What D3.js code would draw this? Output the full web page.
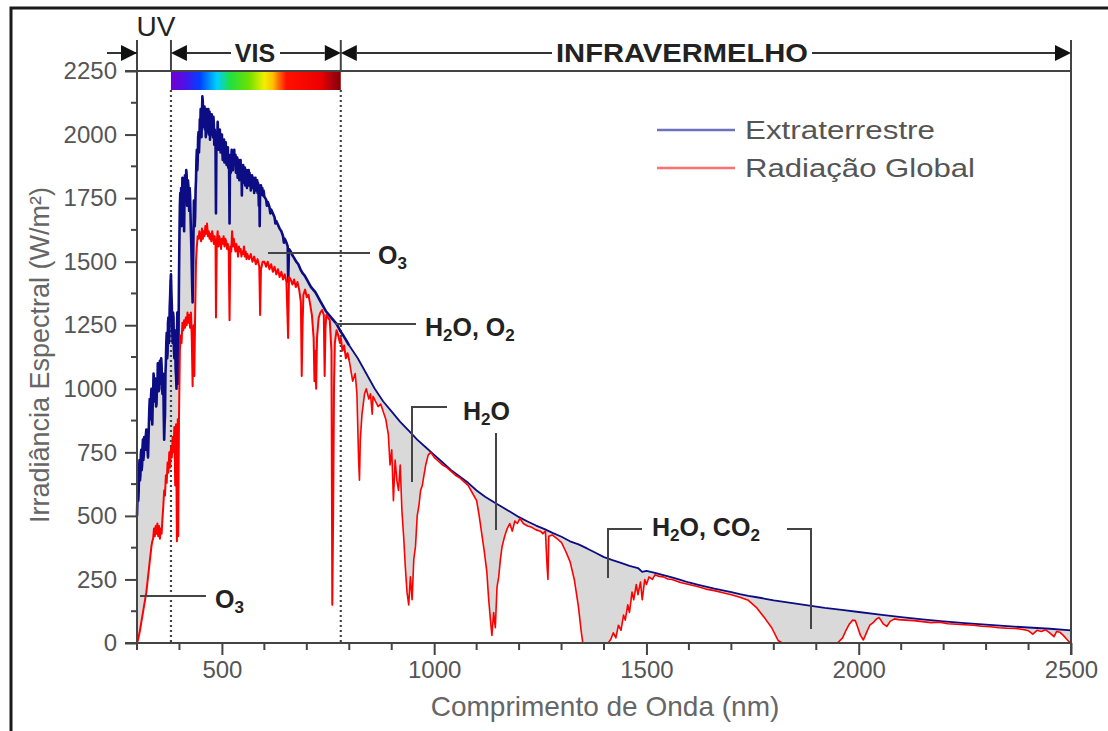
<!DOCTYPE html>
<html><head><meta charset="utf-8">
<script src="https://cdn.jsdelivr.net/npm/d3@7"></script>
<style>
html,body{margin:0;padding:0;background:#fff;}
svg{display:block;}
text{font-family:"Liberation Sans",Arial,sans-serif;}
</style></head>
<body>
<svg id="chart" width="1108" height="731"></svg>
<script>
// ---------------- DATA ----------------
const xTicks = [500, 1000, 1500, 2000, 2500];
const yTicks = [0, 250, 500, 750, 1000, 1250, 1500, 1750, 2000, 2250];
const seriesNames = ["Extraterrestre", "Radiação Global"];
const regionBounds = [300, 380, 780, 2500]; // UV | VIS | INFRAVERMELHO
const regionNames = ["UV", "VIS", "INFRAVERMELHO"];

// [wavelength nm, irradiance]
const extraterrestre = [
[300,500],[302,640],[303,560],[304,600],[305,690],[306,720],[307,640],[308,660],[309,740],[310,760],[311,680],[312,700],[313,770],[314,800],[315,720],[316,740],[317,810],[318,790],
[320,760],[321,820],[322,840],[323,760],[324,780],[326,730],[327,800],[328,860],[329,920],[330,960],[331,880],[332,900],[333,970],[334,1000],[335,900],[336,860],[337,940],[338,980],
[339,1060],[340,1040],[341,960],[342,950],[343,1040],[344,1020],[345,930],[346,940],[347,1020],[348,1000],[349,1100],[350,1080],[351,990],[352,1000],[353,1090],[354,1110],[355,1020],[356,1040],[357,1120],[358,1090],
[359,1000],[360,980],[361,1060],[362,1040],[363,900],[364,800],[365,860],[366,900],[367,1060],[368,1100],[369,1180],[370,1220],[371,1120],[372,1140],[373,1260],[374,1280],[375,1180],[376,1200],[377,1320],[378,1360],
[379,1420],[380,1450],[381,1380],[382,1330],[383,1240],[384,1180],[385,1300],[386,1280],[387,1150],[388,1120],[389,1230],[390,1200],[391,1080],[392,1050],[393,1000],[394,1200],[395,1300],[396,1120],[397,1020],
[398,1250],[399,1450],[400,1600],[401,1720],[402,1770],[403,1700],[404,1790],[405,1640],[406,1760],[407,1830],[408,1760],[409,1790],[410,1700],[411,1620],[412,1780],[413,1840],[414,1760],[415,1780],[416,1860],[417,1840],
[418,1720],[419,1760],[420,1820],[421,1800],[422,1740],[423,1700],[424,1790],[425,1760],[426,1690],[427,1620],[428,1560],[429,1480],[430,1400],[431,1340],[432,1480],[433,1600],[434,1740],[435,1700],[436,1640],[437,1680],
[438,1780],[439,1820],[440,1900],[441,1940],[442,1860],[443,1900],[444,1990],[445,2010],[446,1930],[447,1980],[448,2060],[449,2020],[450,2100],[451,2060],[452,1990],[453,2080],[454,2150],[455,2130],[456,2030],[457,2090],
[458,2050],[459,2110],[460,2020],[461,2080],[462,1990],[463,2070],[464,2100],[465,2010],[466,2080],[467,2040],[468,2100],[469,2000],[470,2060],[471,2090],[472,1980],[473,2050],[474,2070],[475,2000],[476,2080],[477,2030],
[478,2060],[479,1990],[480,2070],[481,2040],[482,1960],[483,2020],[484,1990],[485,1960],[486,1690],[487,1950],[488,2010],[489,1980],[490,2050],[491,1990],[492,1940],[493,2010],[494,1970],[495,2020],[496,1990],[497,1930],
[498,1980],[499,1950],[500,2000],[501,1940],[502,1900],[503,1970],[504,1930],[505,1980],[506,1890],[507,1950],[508,1920],[509,1970],[510,1930],[511,1880],[512,1940],[513,1900],[514,1950],[515,1870],[516,1910],[517,1860],
[518,1650],[519,1880],[520,1920],[521,1850],[522,1900],[523,1940],[524,1870],[525,1920],[526,1860],[527,1910],[528,1890],[529,1940],[530,1880],[532,1920],[533,1850],[534,1900],[535,1870],[536,1910],[537,1830],[538,1890],
[539,1860],[540,1900],[541,1820],[542,1880],[543,1850],[544,1900],[545,1830],[546,1870],[547,1760],[548,1860],[549,1830],[550,1880],[551,1810],[552,1860],[553,1830],[554,1870],[555,1800],[556,1850],[557,1820],[558,1860],
[559,1790],[560,1840],[562,1810],[563,1860],[564,1800],[565,1850],[566,1810],[567,1840],[568,1780],[569,1830],[570,1800],[571,1840],[572,1790],[573,1830],[574,1800],[575,1830],[576,1770],[577,1820],[578,1800],[579,1830],
[580,1780],[581,1820],[582,1790],[583,1820],[584,1770],[585,1810],[586,1790],[587,1720],[588,1800],[589,1640],[590,1790],[591,1760],[592,1800],[594,1770],[595,1790],[597,1760],[598,1780],[600,1755],
[604,1745],[606,1720],[608,1735],[612,1715],[614,1690],[616,1705],[620,1690],[624,1675],[626,1650],[628,1660],[632,1645],[636,1630],[640,1620],
[644,1600],[646,1575],[648,1590],[652,1575],[655,1560],[656,1420],[658,1550],[662,1540],[666,1525],[670,1515],[675,1500],
[680,1490],[685,1470],[690,1455],[695,1445],[700,1430],[705,1415],[710,1400],[715,1390],[720,1380],[725,1365],
[730,1350],[735,1335],[740,1320],[745,1305],[750,1295],[755,1285],[760,1275],[765,1265],[770,1255],[775,1240],
[780,1225],[785,1212],[790,1198],[795,1184],[800,1170],[820,1120],[840,1060],[860,1000],[880,950],[900,910],
[920,870],[940,835],[960,800],[980,770],[1000,740],[1020,710],[1040,680],[1060,655],[1080,630],[1100,600],
[1120,575],[1140,555],[1160,535],[1180,515],[1200,495],[1220,478],[1240,462],[1260,448],[1280,432],[1300,418],
[1320,400],[1340,388],[1360,372],[1380,355],[1400,338],[1420,326],[1440,315],[1460,303],[1480,295],[1490,280],
[1500,284],[1520,276],[1540,267],[1560,258],[1580,248],[1600,238],[1620,230],[1640,222],[1660,214],[1680,207],
[1700,200],[1720,192],[1740,185],[1760,180],[1780,174],[1800,168],[1840,158],[1880,148],[1920,138],[1960,130],
[2000,122],[2050,112],[2100,102],[2150,93],[2200,85],[2250,78],[2300,72],[2350,66],[2400,61],[2450,56],[2500,50]
];

const radiacaoGlobal = [
[300,0],[302,10],[304,25],[306,40],[308,60],[310,80],[312,100],[314,120],[316,140],[318,160],
[320,180],[322,200],[324,230],[326,260],[328,290],[330,320],[332,350],[334,380],[336,400],[338,410],
[340,450],[342,420],[344,460],[346,430],[348,470],[350,420],[352,460],[354,410],[356,450],[358,430],
[360,490],[362,540],[364,600],[366,580],[368,660],[370,630],[372,710],[374,670],[376,750],[378,690],
[380,770],[382,730],[384,810],[386,750],[388,850],[390,620],[392,860],[394,400],[396,880],[397,420],
[399,900],[401,1150],[403,1210],[405,1180],[407,1260],[409,1230],[411,1270],[413,1240],[415,1280],[417,1250],
[419,1300],[421,1260],[423,1290],[425,1240],[427,1300],[429,1200],[431,1010],[433,1250],[435,1050],[437,1300],
[439,1500],[441,1560],[443,1600],[445,1590],[447,1620],[449,1600],[451,1580],[453,1630],[455,1590],[457,1620],
[459,1600],[461,1640],[463,1610],[465,1650],[467,1600],[469,1620],[471,1590],[473,1610],[475,1580],[477,1620],
[479,1600],[481,1570],[483,1600],[485,1560],[486,1280],[488,1580],[490,1620],[492,1560],[494,1600],[496,1580],
[498,1550],[500,1590],[502,1570],[504,1600],[506,1560],[508,1590],[510,1580],[512,1550],[514,1570],[516,1540],
[518,1270],[520,1560],[522,1540],[524,1620],[526,1560],[528,1590],[530,1560],[532,1540],[534,1570],[536,1550],
[538,1520],[540,1560],[542,1540],[544,1550],[546,1520],[548,1540],[550,1530],[552,1560],[554,1520],[556,1540],
[558,1510],[560,1530],[564,1510],[568,1530],[572,1500],[576,1520],[580,1490],[584,1510],[588,1480],[590,1290],
[592,1470],[596,1500],[600,1500],[604,1480],[608,1500],[612,1470],[616,1490],[620,1460],[624,1480],[628,1450],
[632,1470],[636,1440],[640,1460],[644,1430],[648,1450],[652,1420],[656,1200],[658,1440],[662,1430],[666,1410],
[670,1430],[674,1400],[678,1420],[682,1390],[686,1340],[688,1050],[690,1250],[692,1370],[696,1390],[700,1360],
[704,1370],[708,1330],[712,1290],[716,1200],[718,1030],[720,1150],[722,1000],[724,1200],[728,1280],[732,1300],
[736,1310],[740,1290],[742,1050],[744,1240],[746,1290],[750,1280],[754,1270],[758,1150],[760,150],[762,500],
[764,1000],[766,1180],[770,1230],[774,1210],[778,1180],[780,1200],[784,1150],[788,1170],[792,1120],[796,1140],
[800,1110],[808,1030],[814,1060],[818,980],[822,720],[824,640],[826,800],[830,900],[836,980],[840,1000],
[846,960],[850,980],[854,900],[856,970],[862,950],[868,930],[874,940],[880,910],[886,880],[892,820],
[896,700],[900,760],[904,560],[908,720],[912,640],[916,600],[920,700],[924,520],[928,420],[932,300],
[936,200],[940,150],[944,260],[948,170],[952,330],[956,380],[960,500],[964,540],[968,600],[972,620],
[976,660],[980,700],[986,740],[992,750],[1000,730],[1010,715],[1020,700],[1030,690],[1040,675],[1050,660],
[1060,650],[1070,635],[1080,620],[1090,590],[1100,560],[1106,500],[1112,430],[1118,360],[1124,280],[1128,180],
[1132,100],[1136,30],[1140,120],[1144,60],[1148,220],[1152,260],[1156,330],[1160,380],[1166,420],[1172,450],
[1178,470],[1184,440],[1190,480],[1196,470],[1202,490],[1210,470],[1220,460],[1230,455],[1240,445],[1250,440],
[1256,430],[1262,440],[1266,300],[1268,250],[1270,420],[1278,425],[1290,410],[1300,395],[1310,360],[1320,320],
[1330,250],[1340,140],[1346,50],[1350,0],[1380,0],[1410,0],[1416,15],[1422,40],[1428,20],[1434,70],
[1440,50],[1446,110],[1450,90],[1456,150],[1460,120],[1466,200],[1470,170],[1476,230],[1480,190],[1486,240],
[1490,170],[1496,250],[1500,230],[1506,260],[1514,250],[1520,268],[1530,262],[1540,260],[1550,252],[1560,250],
[1580,238],[1600,230],[1620,222],[1640,212],[1660,206],[1680,198],[1700,190],[1720,180],[1740,168],[1760,138],
[1780,95],[1795,60],[1810,10],[1820,0],[1900,0],[1950,0],[1962,20],[1970,50],[1978,75],[1986,90],
[1992,88],[1998,60],[2004,30],[2011,12],[2018,40],[2026,70],[2034,80],[2042,95],[2048,100],[2058,75],
[2066,65],[2074,85],[2084,95],[2094,92],[2110,90],[2130,88],[2150,84],[2170,80],[2190,82],[2210,76],
[2230,74],[2250,72],[2270,70],[2290,66],[2310,64],[2330,60],[2350,58],[2370,57],[2390,52],[2400,48],
[2410,35],[2420,50],[2430,45],[2440,52],[2450,40],[2460,25],[2466,45],[2474,42],[2482,30],[2490,15],[2498,0]
];

// annotations: label parts [text, isSubscript]
const annotations = [
  {parts:[["O",0],["3",1]]},
  {parts:[["H",0],["2",1],["O, O",0],["2",1]]},
  {parts:[["H",0],["2",1],["O",0]]},
  {parts:[["H",0],["2",1],["O, CO",0],["2",1]]},
  {parts:[["O",0],["3",1]]}
];

// ---------------- DRAW ----------------
const svg = d3.select("#chart");
const x = d3.scaleLinear().domain([300, 2500]).range([137, 1071]);
const y = d3.scaleLinear().domain([0, 2250]).range([643, 71]);

const gray = "#555";
const BLUE = "#0c0c84", RED = "#ff0000";

// outer frame
svg.append("path").attr("d", "M11,731 L11,8 L1108,8").attr("fill","none").attr("stroke","#1a1a1a").attr("stroke-width",3);

// gradient for visible band
const defs = svg.append("defs");
const grad = defs.append("linearGradient").attr("id","vis").attr("x1","0").attr("x2","1").attr("y1","0").attr("y2","0");
[[0,"#7000d0"],[0.08,"#5010e8"],[0.17,"#0040ff"],[0.27,"#00d0ff"],[0.35,"#20e040"],[0.46,"#70e000"],
 [0.55,"#f0f000"],[0.6,"#ffc000"],[0.64,"#ff6000"],[0.68,"#ff1000"],[0.88,"#ee0000"],[0.96,"#a00010"],[1,"#8a0000"]]
 .forEach(s=>grad.append("stop").attr("offset",s[0]).attr("stop-color",s[1]));

// fill between curves
const line = d3.line().x(d=>x(d[0])).y(d=>y(d[1]));
const poly = extraterrestre.concat(radiacaoGlobal.slice().reverse());
svg.append("path").attr("d", line(poly) + "Z").attr("fill","#d9d9d9").attr("stroke","none");

// dotted region lines
[regionBounds[1], regionBounds[2]].forEach(v=>{
  svg.append("line").attr("x1",x(v)).attr("x2",x(v)).attr("y1",90).attr("y2",y(0))
    .attr("stroke","#444").attr("stroke-width",2.2).attr("stroke-dasharray","2,3");
});

// curves (visible/UV part drawn heavier, as in the original)
const split = 800;
function drawSeries(data, color, wVis, wIr){
  svg.append("path").attr("d", line(data.filter(d=>d[0]>=split))).attr("fill","none")
    .attr("stroke",color).attr("stroke-width",wIr).attr("stroke-linejoin","round");
  svg.append("path").attr("d", line(data.filter(d=>d[0]<=split))).attr("fill","none")
    .attr("stroke",color).attr("stroke-width",wVis).attr("stroke-linejoin","round");
}
drawSeries(extraterrestre, BLUE, 2.6, 1.8);
drawSeries(radiacaoGlobal, RED, 2.0, 1.6);

// color bar
svg.append("rect").attr("x",x(regionBounds[1])).attr("y",71).attr("width",x(regionBounds[2])-x(regionBounds[1])).attr("height",19).attr("fill","url(#vis)");

// axes
const axCol = "#444";
const yAxis = d3.axisLeft(y).tickValues(yTicks).tickSize(12).tickPadding(8).tickFormat(d3.format("d"));
const gy = svg.append("g").attr("transform","translate(137,0)").call(yAxis);
gy.select(".domain").remove();
gy.selectAll(".tick line").attr("stroke",axCol).attr("stroke-width",2);
gy.selectAll(".tick text").attr("fill",gray).attr("font-size",24);
const yMinor = d3.range(125, 2250, 250);
svg.append("g").selectAll("line").data(yMinor).join("line")
  .attr("x1",131).attr("x2",137).attr("y1",d=>y(d)).attr("y2",d=>y(d)).attr("stroke",axCol).attr("stroke-width",2);
const xAxis = d3.axisBottom(x).tickValues(xTicks).tickSize(12).tickPadding(6).tickFormat(d3.format("d"));
const gx = svg.append("g").attr("transform","translate(0,643)").call(xAxis);
gx.select(".domain").remove();
gx.selectAll(".tick line").attr("stroke",axCol).attr("stroke-width",2);
gx.selectAll(".tick text").attr("fill",gray).attr("font-size",24);
const xMinor = d3.range(300, 2500, 100).filter(v=>v%500!==0);
svg.append("g").selectAll("line").data(xMinor).join("line")
  .attr("x1",d=>x(d)).attr("x2",d=>x(d)).attr("y1",643).attr("y2",650).attr("stroke",axCol).attr("stroke-width",2);

// axis lines / frame of plot
const frame = svg.append("g").attr("stroke",axCol).attr("stroke-width",2).attr("fill","none");
frame.append("line").attr("x1",125).attr("x2",x(2500)).attr("y1",y(0)).attr("y2",y(0));
frame.append("line").attr("x1",125).attr("x2",x(2500)).attr("y1",y(2250)).attr("y2",y(2250));
frame.append("line").attr("x1",x(300)).attr("x2",x(300)).attr("y1",40).attr("y2",650);
frame.append("line").attr("x1",x(2500)).attr("x2",x(2500)).attr("y1",40).attr("y2",655);
frame.append("line").attr("x1",x(380)).attr("x2",x(380)).attr("y1",40).attr("y2",71);
frame.append("line").attr("x1",x(780)).attr("x2",x(780)).attr("y1",40).attr("y2",71);

// region arrows row
const ay = 53;
const arrowG = svg.append("g");
function hline(a,b){ arrowG.append("line").attr("x1",a).attr("x2",b).attr("y1",ay).attr("y2",ay).attr("stroke","#333").attr("stroke-width",2); }
function tri(tip, dir){
  const b = tip - dir*16;
  arrowG.append("path").attr("d",`M${tip},${ay} L${b},${ay-8} L${b},${ay+8} Z`).attr("fill","#111");
}
hline(107, x(300)); tri(x(300), 1);
tri(x(380), -1); hline(x(380)+16, 231); hline(280, x(780)-16); tri(x(780), 1);
tri(x(780), -1); hline(x(780)+16, 552); hline(812, x(2500)-16); tri(x(2500), 1);

svg.append("text").attr("x",156).attr("y",36).attr("text-anchor","middle").attr("font-size",28).attr("fill","#222").text(regionNames[0]);
svg.append("text").attr("x",255).attr("y",62).attr("text-anchor","middle").attr("font-size",25).attr("font-weight","bold").attr("fill","#222").text(regionNames[1]);
svg.append("text").attr("x",682).attr("y",62).attr("text-anchor","middle").attr("font-size",25).attr("font-weight","bold").attr("fill","#222")
  .attr("textLength",252).attr("lengthAdjust","spacingAndGlyphs").text(regionNames[2]);

// legend
const leg = svg.append("g");
[["#7070c0",130],["#ff7070",168]].forEach((c,i)=>{
  leg.append("line").attr("x1",657).attr("x2",735).attr("y1",c[1]).attr("y2",c[1]).attr("stroke",c[0]).attr("stroke-width",2.5);
  leg.append("text").attr("x",745).attr("y",c[1]+9).attr("font-size",26).attr("fill","#555")
    .attr("textLength", i===0?190:230).attr("lengthAdjust","spacingAndGlyphs").text(seriesNames[i]);
});

// axis titles
svg.append("text").attr("x",605).attr("y",716).attr("text-anchor","middle").attr("font-size",28).attr("fill","#666").text("Comprimento de Onda (nm)");
svg.append("text").attr("transform","translate(49,355) rotate(-90)").attr("text-anchor","middle").attr("font-size",27).attr("fill","#666").text("Irradiância Espectral (W/m²)");

// annotations
const ann = svg.append("g").attr("stroke","#444").attr("stroke-width",2).attr("fill","none");
ann.append("path").attr("d",`M268,253 L370,253`);
ann.append("path").attr("d",`M335,324 L416,324`);
ann.append("path").attr("d",`M412,482 L412,407 L447,407 M496,433 L496,530`);
ann.append("path").attr("d",`M608,578 L608,529 L642,529 M787,529 L811,529 L811,629`);
ann.append("path").attr("d",`M140,596 L206,596`);
const annPos = [[378,264],[425,336],[463,420],[652,536],[215,608]];
annotations.forEach((a,i)=>{
  const t = svg.append("text").attr("x",annPos[i][0]).attr("y",annPos[i][1]).attr("font-size",25).attr("font-weight","bold").attr("fill","#222");
  a.parts.forEach((p,j)=>{
    const s = t.append("tspan").text(p[0]);
    if(p[1]) s.attr("font-size",17).attr("dy",5);
    else if(j>0 && a.parts[j-1][1]) s.attr("dy",-5);
  });
});
</script>
</body></html>
